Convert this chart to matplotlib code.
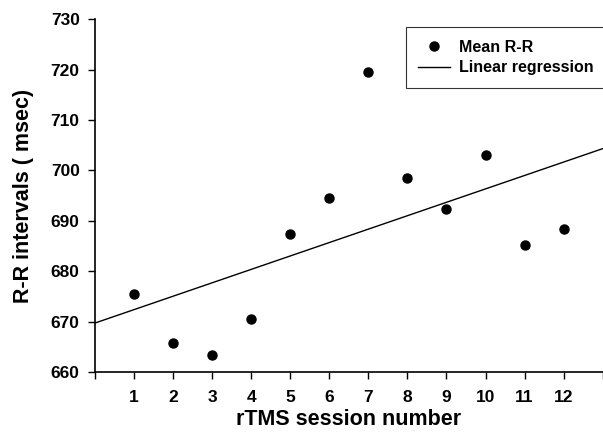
import matplotlib.pyplot as plt
import numpy as np

plt.rcParams['font.family'] = ['Liberation Sans', 'DejaVu Sans']
plt.rcParams['font.weight'] = 'bold'

sessions = [1, 2, 3, 4, 5, 6, 7, 8, 9, 10, 11, 12]
mean_rr = [675.5, 665.7, 663.3, 670.6, 687.3, 694.6, 719.5, 698.4, 692.4, 703.0, 685.2, 688.4]
# regression line as drawn in the original (end points)
reg_x = [0, 13]
reg_y = [669.7, 704.3]

fig = plt.figure(figsize=(6.03, 4.34), dpi=100)
ax = fig.add_axes([0.1575, 0.143, 0.842, 0.813])

ax.plot(sessions, mean_rr, 'o', color='black', markersize=6.5, label='Mean R-R')
ax.plot(reg_x, reg_y, '-', color='black', lw=1, label='Linear regression')

ax.set_xlim(0, 13)
ax.set_ylim(660, 730)
ax.set_xticks(range(0, 14))
ax.set_xticklabels([''] + [str(s) for s in sessions] + [''])
ax.set_yticks(range(660, 731, 10))

ax.spines['top'].set_visible(False)
ax.spines['right'].set_visible(False)
ax.spines['left'].set_linewidth(1.2)
ax.spines['bottom'].set_linewidth(1.2)
ax.tick_params(axis='y', direction='out', length=5, width=1, labelsize=12.5, pad=6)
ax.tick_params(axis='x', direction='out', length=5, width=1, labelsize=12.5, pad=8)

ax.set_xlabel('rTMS session number', fontsize=15.5, fontweight='bold', labelpad=3)
ax.set_ylabel('R-R intervals ( msec)', fontsize=15.5, fontweight='bold', labelpad=12)

leg = ax.legend(loc='upper left', bbox_to_anchor=(0.612, 0.978), fontsize=11.5,
                frameon=True, fancybox=False, edgecolor='black', handlelength=2.0,
                borderpad=0.8, labelspacing=0.35, handletextpad=0.55, borderaxespad=0)
leg.get_frame().set_linewidth(0.8)

fig.savefig('out.png', dpi=100)
